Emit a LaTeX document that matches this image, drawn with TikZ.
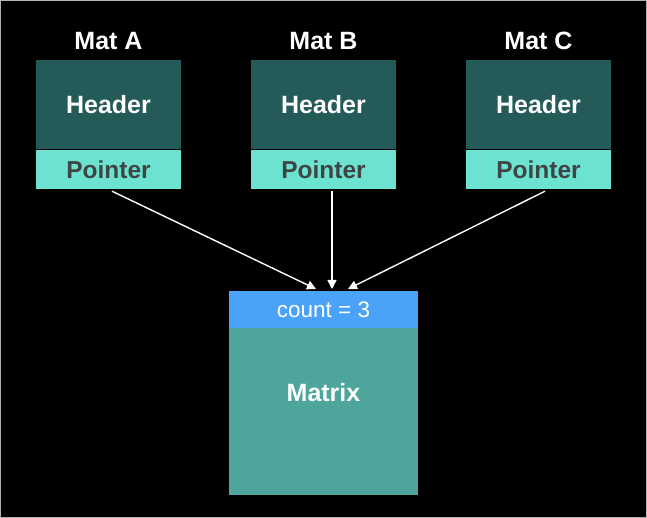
\documentclass[tikz,border=0pt]{standalone}
\usepackage{fontspec}
\setmainfont{Liberation Sans}
\usetikzlibrary{arrows.meta,calc}
\definecolor{hdr}{HTML}{245A58}
\definecolor{ptr}{HTML}{6CE3D0}
\definecolor{ptrtxt}{HTML}{3F4444}
\definecolor{cnt}{HTML}{4AA3F8}
\definecolor{mtx}{HTML}{4DA59B}
\tikzset{
  hdrbox/.style={fill=hdr, minimum width=145pt, minimum height=89pt, inner sep=0pt, text=white, font=\bfseries\fontsize{25}{28}\selectfont},
  ptrbox/.style={fill=ptr, minimum width=145pt, minimum height=39pt, inner sep=0pt, text=ptrtxt, font=\bfseries\fontsize{24.5}{28}\selectfont},
  title/.style={text=white, font=\bfseries\fontsize{25}{28}\selectfont},
  link/.style={draw=white, line width=1.4pt, -{Triangle[length=9pt,width=9pt]}}
}
\begin{document}
\begin{tikzpicture}[x=1pt,y=-1pt]
\fill[black] (0,0) rectangle (647,518);
\draw[gray!60, line width=1pt] (0.5,0.5) rectangle (646.5,517.5);
\useasboundingbox (0,0) rectangle (647,518);
\foreach \n/\x/\t in {A/108.5/Mat A, B/323.5/Mat B, C/538.5/Mat C}{
  \node[title] (t\n) at (\x,41) {\t};
  \node[hdrbox] (h\n) at (\x,104.5) {Header};
  \node[ptrbox] (p\n) at (\x,169.5) {Pointer};
}
\node[fill=cnt, minimum width=189pt, minimum height=37pt, inner sep=0pt, text=white, font=\fontsize{22.5}{26}\selectfont] (cnt) at (323.5,309.5) {count = 3};
\node[fill=mtx, minimum width=189pt, minimum height=167pt, inner sep=0pt] (mat) at (323.5,411.5) {};
\node[text=white, font=\bfseries\fontsize{25}{28}\selectfont] (matl) at (323.5,393) {Matrix};
\coordinate (ea) at (316,289);
\coordinate (eb) at (332,289);
\coordinate (ec) at (348,289);
\draw[link] ($(pA.south)+(3.5,2)$) -- (ea);
\draw[link] ($(pB.south)+(8.5,2)$) -- (eb);
\draw[link] ($(pC.south)+(6.5,2)$) -- (ec);
\end{tikzpicture}
\end{document}
